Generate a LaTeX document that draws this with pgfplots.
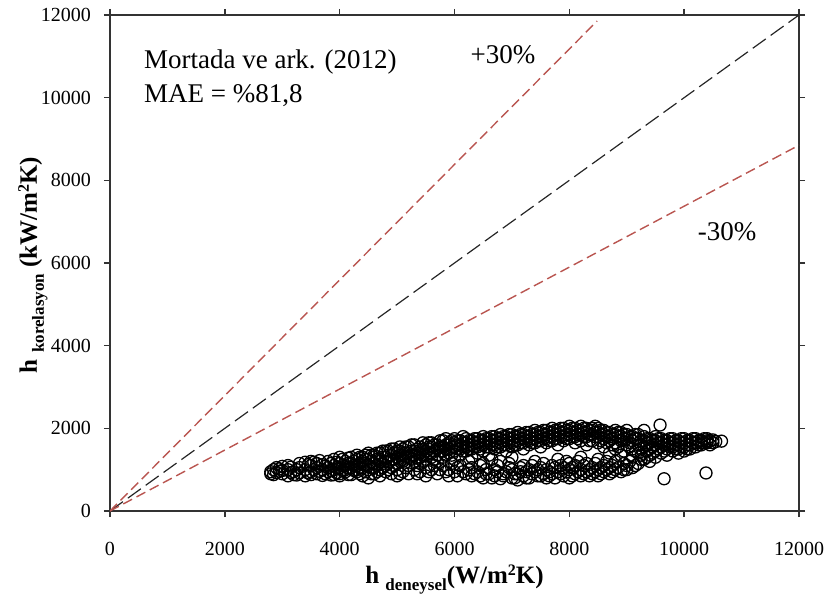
\documentclass[border=0pt]{standalone}
\usepackage{pgfplots}
\pgfplotsset{compat=1.18}
\usepackage{fontspec}
\setmainfont{Liberation Serif}
\definecolor{rdash}{RGB}{185,85,80}

\begin{document}
\begin{tikzpicture}[font=\fontsize{10}{12}\selectfont]
\begin{axis}[
	width=344.5pt, height=248pt, scale only axis,
	xmin=0, xmax=12000, ymin=0, ymax=12000,
	xtick={0,2000,...,12000}, ytick={0,2000,...,12000},
	tick align=outside, major tick length=3pt,
	/pgf/number format/assume math mode=true,
	scaled ticks=false,
	xticklabel style={/pgf/number format/1000 sep={}, yshift=-9pt},
	yticklabel style={/pgf/number format/1000 sep={}, xshift=-3pt},
	axis line style={line width=0.7pt, black!80},
	tick style={line width=0.7pt, black!80},
	xlabel={\fontsize{12.5}{15}\selectfont\bfseries h \raisebox{-0.6ex}{\fontsize{8.5}{10}\selectfont deneysel}(W/m\raisebox{0.7ex}{\fontsize{8}{9}\selectfont 2}K)},
	ylabel={\fontsize{12.5}{15}\selectfont\bfseries h \raisebox{-0.6ex}{\fontsize{8.5}{10}\selectfont korelasyon} (kW/m\raisebox{0.7ex}{\fontsize{8}{9}\selectfont 2}K)},
	xlabel style={at={(axis description cs:0.5,-0.139)}, anchor=center},
	ylabel style={at={(axis description cs:-0.112,0.496)}, anchor=center},
]
\coordinate (bl) at (rel axis cs:0,0);
\coordinate (tr) at (rel axis cs:1,1);

% reference lines
\addplot[black!85, line width=0.6pt, dash pattern=on 8pt off 3pt] coordinates {(0,0) (12000,12000)};
\addplot[rdash, line width=0.7pt, dash pattern=on 5pt off 2.5pt] coordinates {(0,0) (8483,11853)};
\addplot[rdash, line width=0.7pt, dash pattern=on 5pt off 2.5pt] coordinates {(0,0) (12000,8850)};

% measured vs correlation
\addplot[only marks, mark=o, mark size=3pt, mark options={line width=0.65pt, black}] coordinates {
(2800,950)(2800,900)(2850,1000)(2850,880)(2900,930)(2900,1050)
(3000,900)(3000,980)(3000,1080)(3100,850)(3100,1000)(3100,1100)
(3200,950)(3200,880)(3300,1050)(3300,920)(3300,1150)
(3400,850)(3400,1000)(3400,1180)(3500,950)(3500,1100)(3500,880)(3500,1200)
(3600,1050)(3600,900)(3600,1150)(3700,1000)(3700,860)(3700,1120)
(3800,950)(3800,1200)(3800,1050)(3900,880)(3900,1100)(3900,1250)(3900,1000)
(4000,1050)(4000,900)(4000,1150)(4000,1300)(4000,850)
(4100,1000)(4100,1200)(4100,950)(4100,1100)
(4200,1150)(4200,880)(4200,1300)(4200,1050)
(4300,1100)(4300,1250)(4300,950)(4300,1350)(4300,1000)
(4400,1200)(4400,850)(4400,1050)(4400,1300)(4400,1150)
(4500,1250)(4500,1000)(4500,1400)(4500,800)(4500,1100)
(4600,1150)(4600,1300)(4600,900)(4600,1350)(4600,1050)
(4700,1200)(4700,1000)(4700,1400)(4700,1250)(4700,850)
(4800,1300)(4800,1100)(4800,1450)(4800,950)(4800,1200)
(4900,1250)(4900,1350)(4900,1050)(4900,1500)(4900,900)
(5000,1300)(5000,1150)(5000,1450)(5000,1000)(5000,1400)(5000,850)
(5100,1350)(5100,1200)(5100,1500)(5100,950)(5100,1250)
(5200,1400)(5200,1100)(5200,1550)(5200,1300)(5200,900)
(5300,1350)(5300,1450)(5300,1200)(5300,1600)(5300,1000)
(5400,1400)(5400,1300)(5400,1550)(5400,950)(5400,1150)
(5500,1450)(5500,1250)(5500,1600)(5500,1050)(5500,1350)(5500,850)
(5600,1400)(5600,1550)(5600,1300)(5600,1650)(5600,1000)
(5700,1500)(5700,1350)(5700,1600)(5700,900)(5700,1200)
(5800,1450)(5800,1550)(5800,1700)(5800,1300)(5800,1100)
(5900,1500)(5900,1400)(5900,1650)(5900,1000)(5900,1600)(5900,850)
(6000,1550)(6000,1450)(6000,1750)(6000,1250)(6000,950)(6000,1650)
(6100,1500)(6100,1600)(6100,1700)(6100,1350)(6100,1100)
(6200,1550)(6200,1650)(6200,1450)(6200,1750)(6200,900)
(6300,1600)(6300,1500)(6300,1700)(6300,1300)(6300,1050)(6300,850)
(6400,1650)(6400,1550)(6400,1750)(6400,1400)(6400,950)
(6500,1600)(6500,1700)(6500,1800)(6500,1450)(6500,800)(6500,1150)
(6600,1650)(6600,1550)(6600,1750)(6600,1350)(6600,900)
(6700,1700)(6700,1600)(6700,1800)(6700,1500)(6700,1000)(6700,850)
(6800,1650)(6800,1750)(6800,1550)(6800,1850)(6800,1200)(6800,780)
(6900,1700)(6900,1600)(6900,1800)(6900,1450)(6900,950)
(7000,1750)(7000,1650)(7000,1850)(7000,1550)(7000,1000)(7000,800)(7000,1300)
(7100,1700)(7100,1800)(7100,1600)(7100,1900)(7100,900)(7100,750)
(7200,1750)(7200,1650)(7200,1850)(7200,1500)(7200,1100)(7200,850)
(7300,1800)(7300,1700)(7300,1900)(7300,1600)(7300,1000)(7300,800)
(7400,1750)(7400,1850)(7400,1650)(7400,1950)(7400,950)(7400,1200)
(7500,1800)(7500,1700)(7500,1900)(7500,1550)(7500,850)(7500,1050)
(7600,1850)(7600,1750)(7600,1950)(7600,1650)(7600,1000)(7600,800)
(7700,1800)(7700,1900)(7700,1700)(7700,2000)(7700,1100)(7700,900)
(7800,1850)(7800,1750)(7800,1950)(7800,1600)(7800,950)(7800,1250)
(7900,1900)(7900,1800)(7900,2000)(7900,1700)(7900,850)(7900,1050)
(8000,1850)(8000,1950)(8000,1750)(8000,2050)(8000,1000)(8000,1150)(8000,800)
(8100,1900)(8100,1800)(8100,2000)(8100,1650)(8100,900)(8100,1100)
(8200,1950)(8200,1850)(8200,2050)(8200,1700)(8200,1000)(8200,1300)(8200,850)
(8300,1900)(8300,2000)(8300,1800)(8300,1600)(8300,950)(8300,1150)
(8400,1950)(8400,1850)(8400,2000)(8400,1700)(8400,1050)(8400,900)
(8500,1900)(8500,1800)(8500,2000)(8500,1650)(8500,1000)(8500,1250)(8500,850)
(8600,1850)(8600,1950)(8600,1750)(8600,1550)(8600,950)(8600,1100)
(8700,1900)(8700,1800)(8700,1700)(8700,1400)(8700,1050)(8700,900)
(8800,1850)(8800,1950)(8800,1650)(8800,1500)(8800,1000)(8800,1200)
(8900,1800)(8900,1900)(8900,1700)(8900,1350)(8900,950)
(9000,1850)(9000,1750)(9000,1600)(9000,1950)(9000,1100)(9000,1000)
(9100,1800)(9100,1700)(9100,1500)(9100,1300)(9100,1050)
(9200,1750)(9200,1850)(9200,1600)(9200,1400)(9200,1150)
(9300,1700)(9300,1800)(9300,1550)(9300,1250)(9300,1950)
(9400,1650)(9400,1750)(9400,1500)(9400,1350)(9400,1200)
(9500,1700)(9500,1600)(9500,1800)(9500,1450)(9500,1300)
(9580,2080)(9650,780)
(9600,1650)(9600,1550)(9600,1750)(9600,1400)
(9700,1600)(9700,1700)(9700,1500)(9700,1350)
(9800,1650)(9800,1550)(9800,1450)(9800,1750)
(9900,1600)(9900,1700)(9900,1500)(9900,1400)
(10000,1650)(10000,1550)(10000,1750)(10000,1450)
(10100,1600)(10100,1700)(10100,1500)
(10200,1650)(10200,1750)(10200,1550)
(10300,1700)(10300,1600)(10300,1650)
(10380,920)
(10400,1700)(10400,1650)(10400,1750)
(10500,1650)(10500,1720)(10650,1690)
(2950,960)(2950,1020)(3150,930)(3150,1060)(3250,1000)(3250,870)
(3450,920)(3450,1120)(3550,1000)(3550,1180)(3650,960)(3650,1220)
(3750,1080)(3750,900)(3850,980)(3850,1150)(3850,870)
(3950,1050)(3950,1180)(3950,920)(4050,1100)(4050,980)(4050,1250)
(4150,1050)(4150,1150)(4150,880)(4150,1280)(4250,1200)(4250,980)(4250,1100)
(4350,1150)(4350,1300)(4350,1050)(4350,900)(4450,1250)(4450,1100)(4450,950)(4450,1350)
(4550,1200)(4550,1350)(4550,1050)(4550,900)(4650,1250)(4650,1100)(4650,1400)(4650,950)
(4750,1300)(4750,1150)(4750,1450)(4750,1050)(4850,1350)(4850,1200)(4850,1000)(4850,1450)
(4950,1400)(4950,1250)(4950,1100)(4950,1500)
(5050,1350)(5050,1450)(5050,1200)(5050,900)(5050,1550)
(5150,1400)(5150,1300)(5150,1550)(5150,1050)
(5250,1450)(5250,1350)(5250,1250)(5250,1600)
(5350,1500)(5350,1400)(5350,1300)(5350,1100)(5350,900)
(5450,1500)(5450,1350)(5450,1650)(5450,1200)
(5550,1500)(5550,1400)(5550,1550)(5550,950)(5550,1650)
(5650,1450)(5650,1600)(5650,1250)(5650,1100)
(5750,1550)(5750,1450)(5750,1700)(5750,1000)
(5850,1600)(5850,1500)(5850,1350)(5850,950)(5850,1750)
(5950,1550)(5950,1700)(5950,1350)(5950,1150)
(6050,1600)(6050,1500)(6050,1700)(6050,1050)(6050,850)
(6150,1650)(6150,1550)(6150,1450)(6150,1800)(6150,950)
(6250,1600)(6250,1700)(6250,1500)(6250,1200)(6250,1000)
(6350,1650)(6350,1750)(6350,1550)(6350,900)
(6450,1700)(6450,1600)(6450,1500)(6450,1100)(6450,850)
(6550,1650)(6550,1750)(6550,1550)(6550,1000)(6550,900)
(6650,1700)(6650,1800)(6650,1600)(6650,1250)(6650,800)
(6750,1750)(6750,1650)(6750,1550)(6750,950)(6750,1100)
(6850,1700)(6850,1800)(6850,1600)(6850,900)(6850,850)
(6950,1750)(6950,1850)(6950,1650)(6950,1050)(6950,1150)
(7050,1800)(7050,1700)(7050,1600)(7050,900)(7050,800)
(7150,1750)(7150,1850)(7150,1650)(7150,1050)(7150,950)
(7250,1800)(7250,1900)(7250,1700)(7250,950)(7250,800)
(7350,1850)(7350,1750)(7350,1650)(7350,1100)(7350,900)
(7450,1800)(7450,1900)(7450,1700)(7450,1000)(7450,850)
(7550,1850)(7550,1750)(7550,1950)(7550,1150)(7550,900)
(7650,1800)(7650,1900)(7650,1700)(7650,950)(7650,850)
(7750,1850)(7750,1950)(7750,1750)(7750,1050)(7750,800)
(7850,1900)(7850,1800)(7850,2000)(7850,1100)(7850,900)
(7950,1850)(7950,1950)(7950,1750)(7950,950)(7950,1200)
(8050,1900)(8050,2000)(8050,1800)(8050,1050)(8050,850)
(8150,1950)(8150,1850)(8150,1750)(8150,950)(8150,1200)
(8250,1900)(8250,2000)(8250,1800)(8250,1100)(8250,900)
(8350,1950)(8350,1850)(8350,1700)(8350,1000)(8350,850)
(8450,1900)(8450,2050)(8450,1800)(8450,1150)(8450,950)
(8550,1850)(8550,1950)(8550,1700)(8550,1050)(8550,900)
(8650,1900)(8650,1800)(8650,1650)(8650,1000)(8650,1200)
(8750,1850)(8750,1750)(8750,1600)(8750,1100)(8750,950)
(8850,1800)(8850,1900)(8850,1550)(8850,1050)
(8950,1850)(8950,1750)(8950,1450)(8950,1150)(8950,1000)
(9050,1800)(9050,1650)(9050,1550)(9050,1200)
(9150,1750)(9150,1850)(9150,1450)(9150,1100)
(9250,1700)(9250,1600)(9250,1350)(9250,1250)
(9350,1750)(9350,1650)(9350,1450)(9350,1300)
(9450,1700)(9450,1600)(9450,1550)(9450,1400)
(9550,1650)(9550,1750)(9550,1500)
(9650,1700)(9650,1600)(9650,1450)
(9750,1650)(9750,1750)(9750,1550)
(9850,1600)(9850,1700)(9850,1500)
(9950,1650)(9950,1550)(9950,1750)
(10050,1700)(10050,1600)(10050,1500)
(10150,1650)(10150,1750)(10250,1700)(10250,1600)
(10350,1650)(10350,1750)(10450,1700)(10450,1600)(10550,1680)
};

\node[anchor=west, align=left, font=\fontsize{13.5}{17}\selectfont] at (axis cs:470,10480) {Mortada ve ark. (2012)\\MAE = \%81,8};
\node[font=\fontsize{13.5}{16}\selectfont] at (axis cs:6846,11031) {+30\%};
\node[font=\fontsize{13.5}{16}\selectfont] at (axis cs:10748,6749) {-30\%};
\end{axis}
\pgfresetboundingbox
\path ([xshift=-55pt,yshift=-46.5pt]bl) rectangle ([xshift=14pt,yshift=7.5pt]tr);
\end{tikzpicture}
\end{document}
